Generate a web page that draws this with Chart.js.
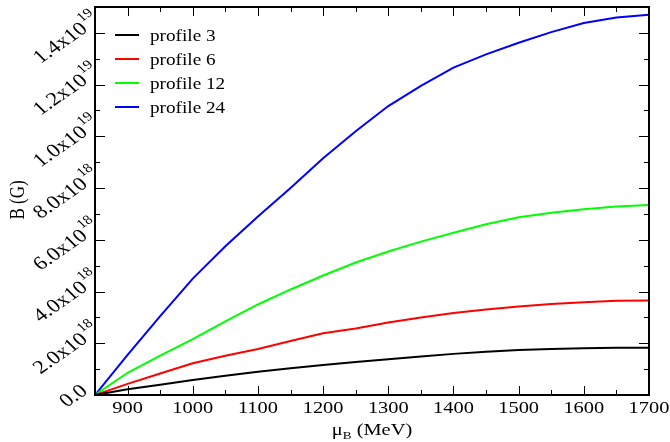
<!DOCTYPE html>
<html>
<head>
<meta charset="utf-8">
<script src="https://cdn.jsdelivr.net/npm/chart.js@4.4.1/dist/chart.umd.min.js"></script>
<style>
  html, body { margin: 0; padding: 0; background: #fff; }
  #wrap { width: 670px; height: 442px; }
</style>
</head>
<body>
<div id="wrap"><canvas id="fieldChart" width="670" height="442"></canvas></div>
<script>
// baryon chemical potential (MeV)
const muB = [850, 900, 950, 1000, 1050, 1100, 1150, 1200, 1250,
             1300, 1350, 1400, 1450, 1500, 1550, 1600, 1650, 1700];

// magnetic field B, in units of 1e18 G
const profile3  = [0, 0.22, 0.40, 0.58, 0.74, 0.90, 1.03, 1.16, 1.28,
                   1.38, 1.49, 1.59, 1.67, 1.74, 1.78, 1.81, 1.83, 1.83];
const profile6  = [0, 0.43, 0.83, 1.23, 1.52, 1.78, 2.09, 2.39, 2.57,
                   2.80, 3.00, 3.17, 3.31, 3.42, 3.52, 3.59, 3.64, 3.65];
const profile12 = [0, 0.86, 1.52, 2.16, 2.85, 3.50, 4.08, 4.62, 5.12,
                   5.55, 5.93, 6.27, 6.60, 6.87, 7.05, 7.18, 7.29, 7.35];
const profile24 = [0, 1.55, 3.05, 4.50, 5.75, 6.90, 8.00, 9.15, 10.2,
                   11.17, 11.95, 12.66, 13.17, 13.62, 14.03, 14.38, 14.59, 14.70];

const seriesLabels = ['profile 3', 'profile 6', 'profile 12', 'profile 24'];
const seriesColors = ['#000000', '#ff0000', '#00ff00', '#0000ff'];

// axis ticks
const xTicks = [900, 1000, 1100, 1200, 1300, 1400, 1500, 1600, 1700];
const yTicks = [0, 2, 4, 6, 8, 10, 12, 14];
const yTickBase = ['0.0', '2.0x10', '4.0x10', '6.0x10', '8.0x10', '1.0x10', '1.2x10', '1.4x10'];
const yTickExp  = ['', '18', '18', '18', '18', '19', '19', '19'];

const SERIF = '"Liberation Serif", "Times New Roman", Times, serif';
const SX = 1.2; // text is drawn slightly wide

function wideText(ctx, str, x, y, size, align) {
    ctx.save();
    ctx.translate(x, y);
    ctx.scale(SX, 1);
    ctx.font = size + 'px ' + SERIF;
    ctx.textAlign = align;
    ctx.textBaseline = 'alphabetic';
    ctx.fillText(str, 0, 0);
    ctx.restore();
}

function wideWidth(ctx, str, size) {
    ctx.font = size + 'px ' + SERIF;
    return ctx.measureText(str).width * SX;
}

// frame, inward ticks on all four sides, labels, titles and legend
const framePlugin = {
    id: 'framePlugin',
    afterDatasetsDraw(chart) {
        const { ctx, chartArea: a, scales: { x, y } } = chart;
        ctx.save();
        ctx.strokeStyle = '#000';
        ctx.fillStyle = '#000';
        ctx.lineWidth = 1;

        const seg = (x1, y1, x2, y2) => {
            ctx.beginPath();
            ctx.moveTo(x1, y1);
            ctx.lineTo(x2, y2);
            ctx.stroke();
        };

        for (let v = x.min; v <= x.max; v += 50) {
            const px = Math.round(x.getPixelForValue(v)) + 0.5;
            const len = v % 100 === 0 ? 9 : 5;
            seg(px, a.bottom, px, a.bottom - len);
            seg(px, a.top, px, a.top + len);
        }
        for (let v = y.min; v <= y.max; v += 1) {
            const py = Math.round(y.getPixelForValue(v)) + 0.5;
            const len = v % 2 === 0 ? 10 : 5;
            seg(a.left, py, a.left + len, py);
            seg(a.right, py, a.right - len, py);
        }

        ctx.lineWidth = 2;
        ctx.strokeRect(a.left, a.top, a.right - a.left, a.bottom - a.top);

        // x tick labels
        xTicks.forEach(v => wideText(ctx, String(v), x.getPixelForValue(v), a.bottom + 18, 17, 'center'));

        // y tick labels, slanted, with exponent
        yTicks.forEach((v, i) => {
            const py = y.getPixelForValue(v);
            ctx.save();
            ctx.translate(a.left - 11, py - 7);
            ctx.scale(SX, 1);
            ctx.rotate(-40 * Math.PI / 180);
            ctx.textBaseline = 'alphabetic';
            ctx.font = '19px ' + SERIF;
            ctx.textAlign = 'right';
            ctx.fillText(yTickBase[i], 0, 6);
            if (yTickExp[i]) {
                ctx.font = '13px ' + SERIF;
                ctx.textAlign = 'left';
                ctx.fillText(yTickExp[i], 1, -4);
            }
            ctx.restore();
        });

        // x title: mu_B (MeV)
        const cx = (a.left + a.right) / 2;
        const tb = a.bottom + 40;
        const w1 = wideWidth(ctx, '\u03bc', 17);
        const w2 = wideWidth(ctx, 'B', 11);
        const w3 = wideWidth(ctx, ' (MeV)', 17);
        let tx = cx - (w1 + w2 + w3) / 2;
        wideText(ctx, '\u03bc', tx, tb, 17, 'left');
        tx += w1;
        wideText(ctx, 'B', tx, tb + 4, 11, 'left');
        tx += w2;
        wideText(ctx, ' (MeV)', tx, tb, 17, 'left');

        // y title
        ctx.save();
        ctx.translate(19, 200);
        ctx.scale(SX, 1);
        ctx.rotate(-Math.PI / 2);
        ctx.font = '17px ' + SERIF;
        ctx.textAlign = 'center';
        ctx.textBaseline = 'middle';
        ctx.fillText('B (G)', 0, 0);
        ctx.restore();

        // legend
        chart.data.datasets.forEach((ds, i) => {
            const ly = a.top + 28 + i * 24;
            ctx.strokeStyle = ds.borderColor;
            ctx.lineWidth = 2;
            seg(a.left + 20, ly, a.left + 44, ly);
            wideText(ctx, ds.label, a.left + 55, ly + 5.5, 16, 'left');
        });

        ctx.restore();
    }
};

const series = [profile3, profile6, profile12, profile24];

new Chart(document.getElementById('fieldChart'), {
    type: 'line',
    data: {
        datasets: series.map((vals, i) => ({
            label: seriesLabels[i],
            data: muB.map((m, j) => ({ x: m, y: vals[j] })),
            borderColor: seriesColors[i],
            backgroundColor: seriesColors[i],
            borderWidth: 2,
            pointRadius: 0,
            tension: 0,
            fill: false
        }))
    },
    options: {
        responsive: false,
        animation: false,
        layout: { padding: { top: 7, right: 21, left: 0, bottom: 0 } },
        plugins: {
            legend: { display: false },
            tooltip: { enabled: false }
        },
        scales: {
            x: {
                type: 'linear', min: 850, max: 1700,
                grid: { display: false }, border: { display: false },
                ticks: { display: false },
                afterFit(s) { s.height = 47; }
            },
            y: {
                type: 'linear', min: 0, max: 15,
                grid: { display: false }, border: { display: false },
                ticks: { display: false },
                afterFit(s) { s.width = 95; }
            }
        }
    },
    plugins: [framePlugin]
});
</script>
</body>
</html>
